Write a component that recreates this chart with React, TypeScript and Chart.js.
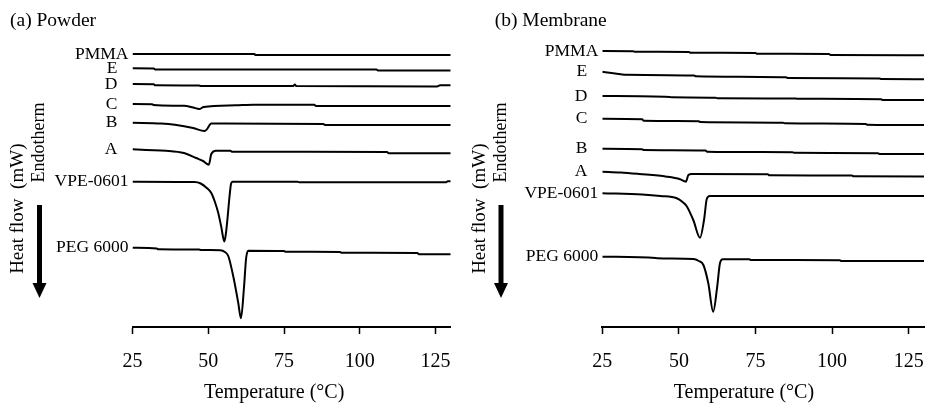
import { useEffect, useRef } from 'react';
import { Chart, registerables } from 'chart.js';

Chart.register(...registerables);

const FONT = '"Liberation Serif", "Times New Roman", serif';

// X-axis tick labels (°C)
const tempTicks = [25, 50, 75, 100, 125];

// Curve names, top to bottom
const curveNames = ['PMMA', 'E', 'D', 'C', 'B', 'A', 'VPE-0601', 'PEG 6000'];

// ---- (a) Powder: [temperature °C, heat flow (offset, mW)] ----
const powderPMMA: [number, number][] = [[25, 27.3], [65.2, 27.3], [65.6, 27.2], [130, 27.2]];
const powderE: [number, number][] = [[25, 25.87], [32, 25.85], [32.5, 25.75], [105.5, 25.75], [106, 25.65], [130, 25.65]];
const powderD: [number, number][] = [[25, 24.3], [32, 24.28], [32.5, 24.17], [47, 24.15], [47.5, 24.1], [78, 24.1], [78.6, 24.25], [79, 24.1], [125.5, 24.05], [126.5, 24.17], [130, 24.17]];
const powderC: [number, number][] = [[25, 22.3], [31.5, 22.28], [32, 22.2], [42, 22.12], [45, 21.95], [47, 21.8], [48.5, 22.0], [59, 22.17], [65, 22.23], [85, 22.22], [85.5, 22.1], [130, 22.1]];
const powderB: [number, number][] = [[25, 20.43], [34.5, 20.35], [39, 20.22], [45, 19.9], [48.8, 19.6], [49.5, 19.75], [51, 20.35], [88, 20.3], [88.5, 20.2], [130, 20.2]];
const powderA: [number, number][] = [[25, 17.77], [29.5, 17.7], [36, 17.63], [42, 17.4], [46, 16.9], [48.3, 16.6], [50.2, 16.23], [51, 17.3], [52.5, 17.62], [57.3, 17.63], [57.8, 17.53], [109, 17.5], [109.5, 17.37], [130, 17.37]];
const powderVPE: [number, number][] = [[25, 14.53], [45.5, 14.5], [47.5, 14.35], [49.5, 13.9], [51, 13.4], [52.2, 12.5], [53.3, 11.4], [54.3, 10.0], [55.3, 8.55], [55.8, 9.3], [56.3, 10.7], [57.0, 13.0], [57.5, 14.3], [58, 14.53], [79.5, 14.53], [80, 14.47], [128.5, 14.47], [129, 14.57], [130, 14.57]];
const powderPEG: [number, number][] = [[25, 7.93], [33, 7.85], [33.5, 7.78], [47, 7.75], [47.5, 7.7], [54, 7.68], [55.5, 7.5], [56.6, 7.1], [58.3, 5.0], [59.9, 2.4], [60.8, 0.87], [61.8, 4.0], [62.5, 6.9], [63.2, 7.63], [75, 7.6], [75.5, 7.53], [93.5, 7.5], [94, 7.43], [119, 7.4], [119.5, 7.28], [130, 7.27]];

// ---- (b) Membrane ----
const membranePMMA: [number, number][] = [[25, 27.6], [35, 27.58], [35.5, 27.53], [53.3, 27.5], [53.8, 27.43], [75, 27.4], [75.5, 27.33], [99, 27.3], [99.5, 27.2], [130, 27.17]];
const membraneE: [number, number][] = [[25, 25.53], [28, 25.4], [31, 25.28], [32.8, 25.22], [55, 25.15], [55.5, 25.08], [85, 24.98], [85.5, 24.9], [115.5, 24.85], [116, 24.8], [130, 24.78]];
const membraneD: [number, number][] = [[25, 23.1], [47, 23.0], [47.5, 22.97], [62, 22.93], [62.5, 22.87], [88, 22.85], [88.5, 22.83], [116, 22.78], [116.5, 22.7], [130, 22.7]];
const membraneC: [number, number][] = [[25, 20.83], [38, 20.78], [38.5, 20.63], [56.5, 20.58], [57, 20.5], [84, 20.43], [84.5, 20.37], [111, 20.3], [111.5, 20.23], [130, 20.2]];
const membraneB: [number, number][] = [[25, 17.83], [38, 17.78], [38.5, 17.7], [58.7, 17.65], [59.2, 17.53], [87, 17.48], [87.5, 17.43], [115, 17.38], [115.5, 17.3], [130, 17.3]];
const membraneA: [number, number][] = [[25, 15.53], [31, 15.45], [37, 15.3], [46, 15.03], [50.4, 14.77], [52.3, 14.53], [53.1, 15.2], [54.2, 15.3], [79, 15.28], [79.5, 15.17], [106.5, 15.15], [107, 15.07], [130, 15.05]];
const membraneVPE: [number, number][] = [[25, 13.37], [38, 13.25], [44, 13.1], [49.3, 12.87], [51.2, 12.5], [52.5, 12.1], [54.7, 10.7], [56.9, 8.93], [58.2, 10.7], [59.1, 12.8], [60.1, 13.1], [130, 13.1]];
const membranePEG: [number, number][] = [[25, 7.03], [42.5, 6.9], [43, 6.87], [54.7, 6.8], [56.5, 6.6], [58, 6.2], [59.6, 4.37], [61.2, 1.53], [62.5, 4.03], [63.4, 6.37], [64.3, 6.77], [73, 6.77], [73.5, 6.7], [102.5, 6.68], [103, 6.6], [130, 6.6]];

const powderSeries = [powderPMMA, powderE, powderD, powderC, powderB, powderA, powderVPE, powderPEG];
const membraneSeries = [membranePMMA, membraneE, membraneD, membraneC, membraneB, membraneA, membraneVPE, membranePEG];

type PanelProps = {
  title: string;
  series: [number, number][][];
  padLeft: number;
  padRight: number;
  titleX: number;
  yLabelX: number;
  endoX: number;
};

function Panel({ title, series, padLeft, padRight, titleX, yLabelX, endoX }: PanelProps) {
  const ref = useRef<HTMLCanvasElement | null>(null);
  useEffect(() => {
    const canvas = ref.current;
    if (!canvas) return;

    const decor = {
      id: 'decor',
      afterDatasetsDraw(chart: any) {
        const ctx = chart.ctx as CanvasRenderingContext2D;
        const area = chart.chartArea;
        ctx.save();
        ctx.fillStyle = '#000';
        // curve labels at the start of each curve
        ctx.font = `17.5px ${FONT}`;
        ctx.textAlign = 'right';
        ctx.textBaseline = 'middle';
        chart.data.datasets.forEach((ds: any, i: number) => {
          const meta = chart.getDatasetMeta(i);
          const p = meta.data[0];
          if (!p) return;
          const gap = ds.label.length === 1 ? 15 : 4;
          ctx.fillText(ds.label, p.x - gap, p.y);
        });
        // panel title
        ctx.textAlign = 'left';
        ctx.font = `19.5px ${FONT}`;
        ctx.fillText(title, titleX, 21);
        // x axis title
        ctx.textAlign = 'center';
        ctx.font = `20px ${FONT}`;
        ctx.fillText('Temperature (°C)', area.left + 141.6, 393);
        // y axis titles (rotated)
        ctx.font = `19px ${FONT}`;
        ctx.save();
        ctx.translate(yLabelX, 208.7);
        ctx.rotate(-Math.PI / 2);
        ctx.fillText('Heat flow  (mW)', 0, 0);
        ctx.restore();
        ctx.font = `18px ${FONT}`;
        ctx.save();
        ctx.translate(endoX, 142.5);
        ctx.rotate(-Math.PI / 2);
        ctx.fillText('Endotherm', 0, 0);
        ctx.restore();
        // arrow
        ctx.fillRect(endoX - 2.5, 205, 5, 79);
        ctx.beginPath();
        ctx.moveTo(endoX - 7, 283);
        ctx.lineTo(endoX + 7, 283);
        ctx.lineTo(endoX, 298);
        ctx.closePath();
        ctx.fill();
        ctx.restore();
      },
    };

    const chart = new Chart(canvas, {
      type: 'line',
      data: {
        datasets: series.map((pts, i) => ({
          label: curveNames[i],
          data: pts.map(([x, y]) => ({ x, y })),
          borderColor: '#000',
          borderWidth: 2,
          pointRadius: 0,
          fill: false,
          cubicInterpolationMode: 'monotone' as const,
        })),
      },
      options: {
        animation: false,
        responsive: false,
        layout: { padding: { left: padLeft, right: padRight, top: 27, bottom: 17 } },
        plugins: { legend: { display: false }, tooltip: { enabled: false } },
        scales: {
          x: {
            type: 'linear',
            min: 25,
            max: 130,
            afterBuildTicks: (scale: any) => {
              scale.ticks = tempTicks.map((v) => ({ value: v }));
            },
            afterFit: (scale: any) => {
              scale.paddingLeft = 0;
              scale.paddingRight = 0;
            },
            grid: {
              display: true,
              drawOnChartArea: false,
              drawTicks: true,
              tickLength: 7,
              tickWidth: 1.5,
              tickColor: '#000',
            },
            border: { display: true, color: '#000', width: 2 },
            ticks: {
              color: '#000',
              font: { family: FONT, size: 20 },
              padding: 16,
              maxRotation: 0,
              autoSkip: false,
            },
          },
          y: { display: false, type: 'linear', min: 0, max: 30 },
        },
      },
      plugins: [decor],
    });
    return () => chart.destroy();
  }, []);
  return <canvas ref={ref} width={463} height={407} style={{ display: 'block', width: 463, height: 407 }} />;
}

export default function App() {
  return (
    <div style={{ position: 'absolute', left: 0, top: 0, width: 926, height: 407, background: '#fff', display: 'flex' }}>
      <Panel title="(a) Powder" series={powderSeries} padLeft={132.5} padRight={12.3} titleX={10} yLabelX={18} endoX={39.5} />
      <Panel title="(b) Membrane" series={membraneSeries} padLeft={139.3} padRight={2} titleX={31.7} yLabelX={17.5} endoX={38} />
    </div>
  );
}
